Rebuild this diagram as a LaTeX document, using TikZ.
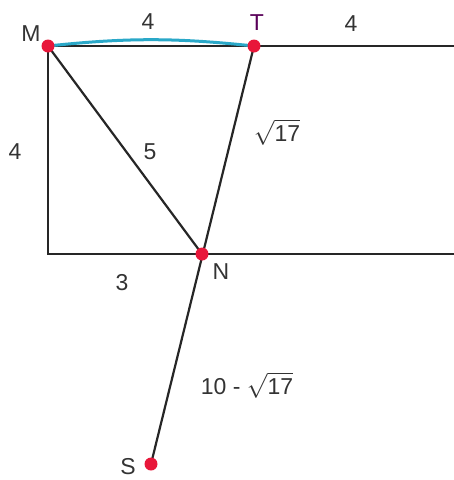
\documentclass[tikz,border=0pt]{standalone}
\usepackage{fontspec}
\setmainfont{Liberation Sans}
\definecolor{arcblue}{HTML}{2AA8C8}
\definecolor{ptred}{HTML}{E8173A}
\begin{document}
\begin{tikzpicture}[x=1pt,y=-1pt,
  seg/.style={line width=2.2pt,black!85},
  dot/.style={circle,fill=ptred,inner sep=0pt,minimum size=13pt},
  lbl/.style={font=\fontsize{23}{26}\selectfont,text=black!80}]
\useasboundingbox (0,0) rectangle (454,480);
\coordinate (C) at (48,254);
\coordinate (R1) at (454,46);
\coordinate (R2) at (454,254);
\coordinate (M) at (48,46);
\coordinate (T) at (254,46);
\coordinate (N) at (202,254);
\coordinate (S) at (151,464);
\draw[seg] (M) -- (R1);
\draw[seg] (M) -- (C) -- (R2);
\draw[seg] (M) -- (N);
\draw[seg] (T) -- (S);
\draw[line width=3pt,arcblue] (M) to[bend left=6] (T);
\node[dot] (dM) at (M) {};
\node[dot] (dT) at (T) {};
\node[dot] (dN) at (N) {};
\node[dot] (dS) at (S) {};
\node[lbl] (lM) at (31,34) {M};
\node[lbl,text=violet!70!black] (lT) at (257,23) {T};
\node[lbl] (l4a) at (148,22) {4};
\node[lbl] (l4b) at (351,24) {4};
\node[lbl] (l4c) at (15,152) {4};
\node[lbl] (l5) at (150,152) {5};
\node[lbl] (lr) at (277,132) {$\sqrt{\mbox{17}}$};
\node[lbl] (l3) at (122,283) {3};
\node[lbl] (lN) at (221,272) {N};
\node[lbl] (lm) at (247,385) {10 - $\sqrt{\mbox{17}}$};
\node[lbl] (lS) at (128,467) {S};
\end{tikzpicture}
\end{document}
